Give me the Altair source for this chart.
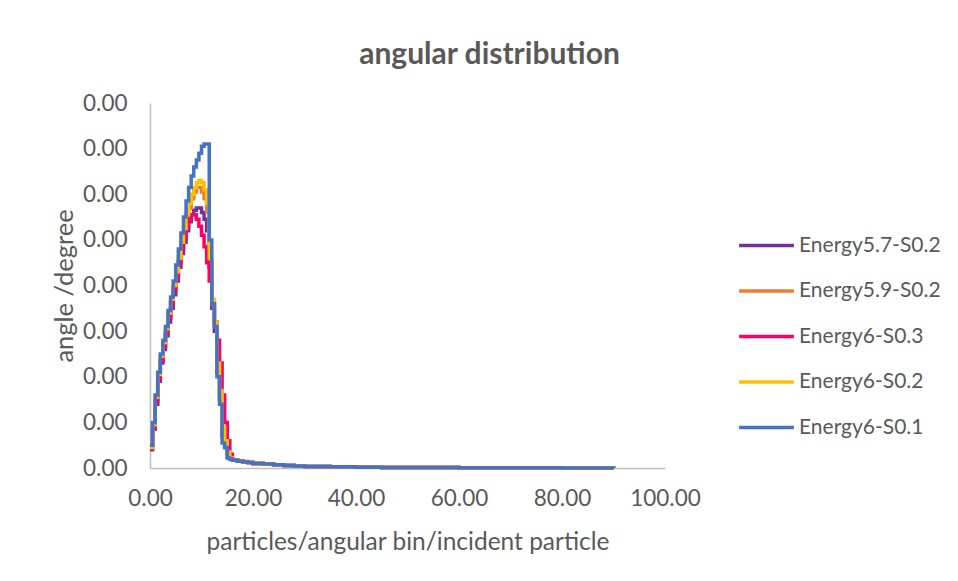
import altair as alt
import pandas as pd

series_names = ["Energy5.7-S0.2", "Energy5.9-S0.2", "Energy6-S0.3", "Energy6-S0.2", "Energy6-S0.1"]
series_colors = ["#7030A0", "#ED7D31", "#FF0066", "#FFC000", "#4472C4"]

# bin start angles (degrees)
angle_bins = [0, 0.5, 1, 1.5, 2, 2.5, 3, 3.5, 4, 4.5, 5, 5.5, 6, 6.5, 7, 7.5,
              8, 8.5, 9, 9.5, 10, 10.5, 11, 11.5, 12, 12.5, 13, 13.5, 14, 14.5, 15, 15.5,
              16, 17, 18, 19, 20, 22, 24, 26, 28, 30, 35, 40, 45, 50, 60, 70, 80, 90]

# values in units of 1e-4
purple_vals = [0.4, 0.85, 1.4, 1.9, 2.3, 2.6, 2.9, 3.2, 3.5, 3.8, 4.1, 4.4, 4.7, 4.95, 5.2, 5.4,
               5.55, 5.65, 5.7, 5.7, 5.6, 5.45, 5.2, 4.4, 3.5, 3.0, 2.1, 1.5, 0.7, 0.45, 0.25, 0.2,
               0.17, 0.15, 0.13, 0.12, 0.1, 0.085, 0.07, 0.055, 0.045, 0.035, 0.025, 0.018, 0.013, 0.01, 0.007, 0.004, 0.002, 0.001]
orange_vals = [0.45, 0.95, 1.5, 2.0, 2.4, 2.7, 3.0, 3.35, 3.65, 3.95, 4.25, 4.55, 4.85, 5.15, 5.45, 5.7,
               5.9, 6.05, 6.15, 6.15, 6.05, 5.9, 5.6, 4.5, 3.6, 3.1, 2.2, 1.6, 0.8, 0.5, 0.3, 0.21,
               0.17, 0.15, 0.13, 0.12, 0.1, 0.085, 0.07, 0.055, 0.045, 0.035, 0.025, 0.018, 0.013, 0.01, 0.007, 0.004, 0.002, 0.001]
pink_vals = [0.45, 0.9, 1.45, 1.95, 2.35, 2.65, 2.95, 3.3, 3.6, 3.9, 4.2, 4.5, 4.8, 5.05, 5.3, 5.45,
             5.55, 5.55, 5.45, 5.3, 5.1, 4.85, 4.5, 4.1, 3.6, 3.2, 2.8, 2.3, 1.6, 1.0, 0.6, 0.3,
             0.18, 0.16, 0.14, 0.12, 0.1, 0.085, 0.07, 0.055, 0.045, 0.035, 0.025, 0.018, 0.013, 0.01, 0.007, 0.004, 0.002, 0.001]
yellow_vals = [0.45, 0.95, 1.55, 2.05, 2.45, 2.75, 3.05, 3.4, 3.7, 4.0, 4.3, 4.6, 4.95, 5.25, 5.55, 5.8,
               6.0, 6.15, 6.25, 6.3, 6.25, 6.1, 5.8, 4.6, 3.7, 3.2, 2.3, 1.7, 0.9, 0.6, 0.35, 0.22,
               0.17, 0.15, 0.13, 0.12, 0.1, 0.085, 0.07, 0.055, 0.045, 0.035, 0.025, 0.018, 0.013, 0.01, 0.007, 0.004, 0.002, 0.001]
blue_vals = [0.5, 1.0, 1.6, 2.1, 2.5, 2.8, 3.1, 3.45, 3.75, 4.1, 4.45, 4.8, 5.15, 5.5, 5.85, 6.15,
             6.4, 6.6, 6.75, 6.9, 7.05, 7.1, 7.1, 5.0, 3.6, 3.1, 2.0, 1.4, 0.55, 0.45, 0.22, 0.2,
             0.17, 0.15, 0.13, 0.12, 0.1, 0.085, 0.07, 0.055, 0.045, 0.035, 0.025, 0.018, 0.013, 0.01, 0.007, 0.004, 0.002, 0.001]

series_values = [purple_vals, orange_vals, pink_vals, yellow_vals, blue_vals]

x_ticks = [0, 20, 40, 60, 80, 100]
y_ticks = [0, 0.0001, 0.0002, 0.0003, 0.0004, 0.0005, 0.0006, 0.0007, 0.0008]

rows = []
for name, vals in zip(series_names, series_values):
    for a, v in zip(angle_bins, vals):
        rows.append({"angle": a, "value": v * 1e-4, "series": name})
df = pd.DataFrame(rows)

FONT = "Lato"
GREY = "#595959"

color_scale = alt.Scale(domain=series_names, range=series_colors)


def series_layer(name):
    return alt.Chart(df).transform_filter(alt.datum.series == name).mark_line(
        interpolate="step-after", strokeWidth=3.5
    ).encode(
        x=alt.X("angle:Q", scale=alt.Scale(domain=[0, 100], nice=False),
                axis=alt.Axis(values=x_ticks, format=".2f",
                              title="particles/angular bin/incident particle",
                              ticks=False, grid=False, domainColor="#BFBFBF", domainWidth=1.5,
                              labelFlush=False, labelOverlap=False,
                              labelFont=FONT, labelFontSize=22.5, labelColor=GREY, labelPadding=19,
                              titleFont=FONT, titleFontSize=24.5, titleFontWeight="normal",
                              titleColor=GREY, titlePadding=21)),
        y=alt.Y("value:Q", scale=alt.Scale(domain=[0, 0.0008], nice=False),
                axis=alt.Axis(values=y_ticks, format=".2f", title="angle /degree",
                              ticks=False, grid=False, domainColor="#BFBFBF", domainWidth=1.5,
                              labelFlush=False, labelOverlap=False,
                              labelFont=FONT, labelFontSize=22.5, labelColor=GREY, labelPadding=23,
                              titleFont=FONT, titleFontSize=25.5, titleFontWeight="normal",
                              titleColor=GREY, titlePadding=5)),
        color=alt.Color("series:N", scale=color_scale,
                        legend=alt.Legend(title=None, orient="none", legendX=587, legendY=113,
                                          symbolType="stroke", symbolStrokeWidth=3.5,
                                          symbolSize=3000, labelFont=FONT, labelFontSize=21,
                                          labelColor=GREY, labelOffset=3, rowPadding=5.5,
                                          labelLimit=300)),
    )


chart = alt.layer(*[series_layer(n) for n in series_names]).properties(
    width=515,
    height=365,
    autosize="none",
    padding={"left": 142, "top": 95, "right": 285, "bottom": 100},
    title=alt.TitleParams("angular distribution", font=FONT, fontSize=30, fontWeight="bold",
                          color=GREY, anchor="middle", dx=82, offset=22),
).configure(background="white").configure_view(stroke=None)

chart.save("out.html", embed_options={"renderer": "svg", "actions": False})
